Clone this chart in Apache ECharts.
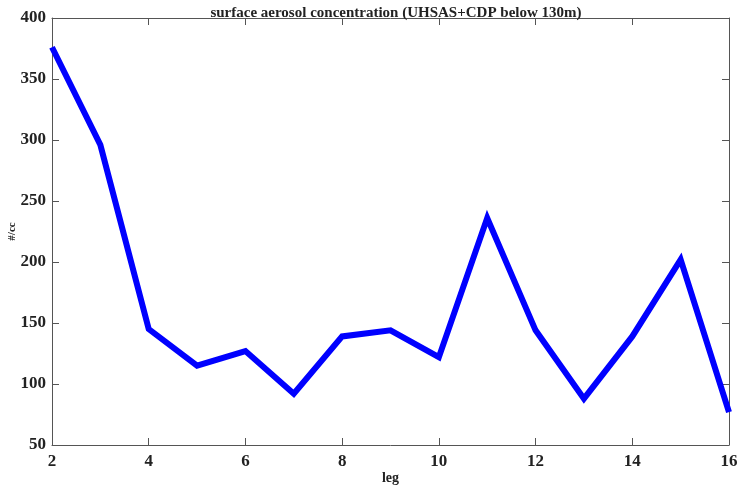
<!DOCTYPE html>
<html>
<head>
<meta charset="utf-8">
<script src="https://cdn.jsdelivr.net/npm/echarts@6/dist/echarts.min.js"></script>
<style>
  html, body { margin: 0; padding: 0; background: #fff; }
  #chart { width: 741px; height: 487px; }
</style>
</head>
<body>
<div id="chart"></div>
<script>
// Flight legs and the surface aerosol concentration measured on each
const legs = [2, 3, 4, 5, 6, 7, 8, 9, 10, 11, 12, 13, 14, 15, 16];
const concentration = [376, 296, 145, 115, 127, 92, 139, 144, 122, 236, 144, 88, 139, 202, 77];
const xTicks = [2, 4, 6, 8, 10, 12, 14, 16];
const yTicks = [50, 100, 150, 200, 250, 300, 350, 400];

const titleText = 'surface aerosol concentration (UHSAS+CDP below 130m)';
const xName = 'leg';
const yName = '#/cc';

const serif = '"Liberation Serif", "DejaVu Serif", serif';
const axisColor = '#555';

const points = legs.map((l, i) => [l, concentration[i]]);

const baseX = {
  type: 'value',
  min: xTicks[0],
  max: xTicks[xTicks.length - 1],
  interval: 2,
  splitLine: { show: false },
  axisLine: { show: true, onZero: false, lineStyle: { color: axisColor, width: 1 } },
  axisTick: { show: true, inside: true, length: 7, lineStyle: { color: axisColor } }
};
const baseY = {
  type: 'value',
  min: yTicks[0],
  max: yTicks[yTicks.length - 1],
  interval: 50,
  splitLine: { show: false },
  axisLine: { show: true, onZero: false, lineStyle: { color: axisColor, width: 1 } },
  axisTick: { show: true, inside: true, length: 7, lineStyle: { color: axisColor } }
};

const chart = echarts.init(document.getElementById('chart'), null, { renderer: 'canvas' });
chart.setOption({
  animation: false,
  backgroundColor: '#fff',
  title: {
    text: titleText,
    left: 391,
    textAlign: 'center',
    top: 1,
    textStyle: { fontFamily: serif, fontWeight: 'bold', fontSize: 15, color: '#222' }
  },
  grid: { left: 52, right: 12, top: 18, bottom: 42, containLabel: false, outerBoundsMode: 'none' },
  xAxis: [
    Object.assign({}, baseX, {
      position: 'bottom',
      name: xName,
      nameLocation: 'middle',
      nameGap: 26,
      nameMoveOverlap: false,
      nameTextStyle: { fontFamily: serif, fontWeight: 'bold', fontSize: 14, color: '#222' },
      axisLabel: {
        show: true, margin: 8,
        fontFamily: serif, fontWeight: 'bold', fontSize: 17, color: '#222'
      }
    }),
    Object.assign({}, baseX, { position: 'top', axisLabel: { show: false } })
  ],
  yAxis: [
    Object.assign({}, baseY, {
      position: 'left',
      name: yName,
      nameLocation: 'middle',
      nameGap: 34,
      nameMoveOverlap: false,
      nameRotate: 90,
      nameTextStyle: { fontFamily: serif, fontWeight: 'bold', fontSize: 11, color: '#222' },
      axisLabel: {
        show: true, margin: 6,
        fontFamily: serif, fontWeight: 'bold', fontSize: 17, color: '#222'
      }
    }),
    Object.assign({}, baseY, { position: 'right', axisLabel: { show: false } })
  ],
  series: [{
    type: 'line',
    data: points,
    xAxisIndex: 0,
    yAxisIndex: 0,
    symbol: 'none',
    lineStyle: { color: '#0000ff', width: 6, join: 'miter' },
    clip: false
  }]
});
</script>
</body>
</html>
